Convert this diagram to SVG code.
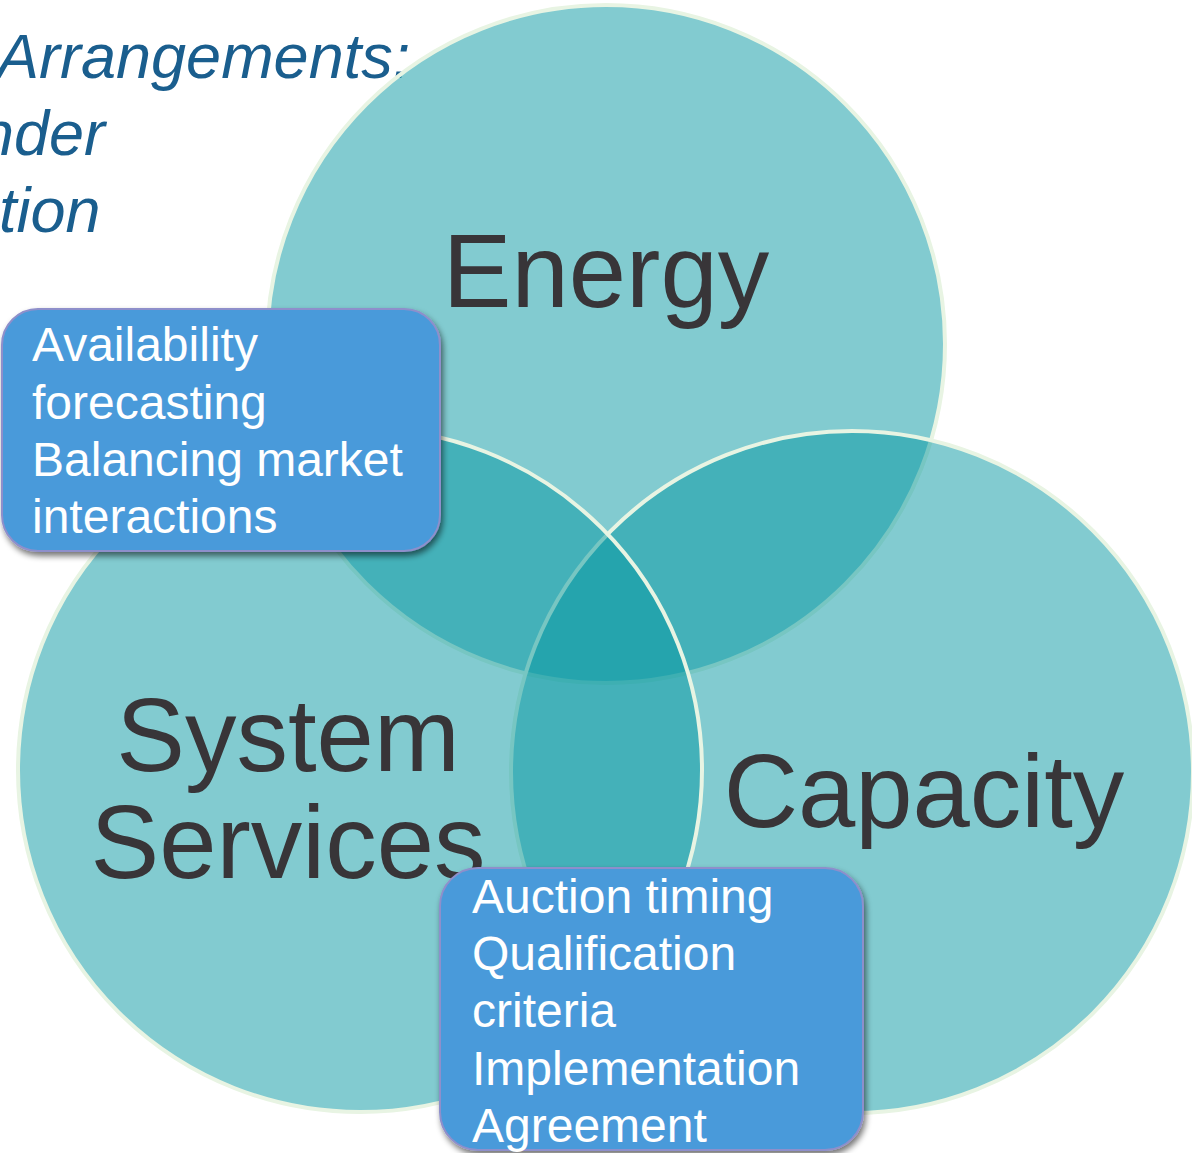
<svg xmlns="http://www.w3.org/2000/svg" width="1192" height="1153" viewBox="0 0 1192 1153">
  <defs>
    <style>
      .ring { fill: rgb(6,152,162); fill-opacity: 0.5; stroke: #E8F4E3; stroke-width: 4; }
      .big { font-family: "Liberation Sans", Arial, sans-serif; font-size: 103px; fill: #383538; }
      .head { font-family: "Liberation Sans", Arial, sans-serif; font-style: italic; font-size: 63px; fill: #1A5E8E; }
      .note { fill: #4A9ADA; stroke: #8E8FCB; stroke-width: 2; filter: url(#shadow); }
      .note-text { font-family: "Liberation Sans", Arial, sans-serif; font-size: 48px; fill: #FFFFFF; }
    </style>
    <filter id="shadow" x="-10%" y="-10%" width="125%" height="130%">
      <feGaussianBlur in="SourceAlpha" stdDeviation="3"/>
      <feOffset dx="2" dy="4" result="blur"/>
      <feComponentTransfer><feFuncA type="linear" slope="0.55"/></feComponentTransfer>
      <feMerge><feMergeNode/><feMergeNode in="SourceGraphic"/></feMerge>
    </filter>
  </defs>

  <rect width="1192" height="1153" fill="#FFFFFF"/>

  <!-- heading fragments at the upper left -->
  <g id="heading" class="head">
    <text x="-3" y="78">Arrangements:</text>
    <text x="105" y="155" text-anchor="end">nder</text>
    <text x="-1" y="232">tion</text>
  </g>

  <!-- three overlapping sets -->
  <g id="energy">
    <circle class="ring" cx="606" cy="344" r="339"/>
  </g>
  <g id="capacity">
    <circle class="ring" cx="852" cy="772" r="341"/>
  </g>
  <g id="system-services">
    <circle class="ring" cx="360" cy="770" r="342"/>
  </g>

  <g id="labels" class="big">
    <text x="606" y="307" text-anchor="middle">Energy</text>
    <text x="288" y="771" text-anchor="middle">System</text>
    <text x="288" y="878" text-anchor="middle">Services</text>
    <text x="924" y="827" text-anchor="middle">Capacity</text>
  </g>

  <g id="connectors"></g>

  <!-- callout boxes -->
  <g id="note-energy-services">
    <rect class="note" x="2" y="309" width="438" height="242" rx="36"/>
    <g class="note-text">
      <text x="32" y="361">Availability</text>
      <text x="32" y="419">forecasting</text>
      <text x="32" y="476">Balancing market</text>
      <text x="32" y="533">interactions</text>
    </g>
  </g>
  <g id="note-capacity-services">
    <rect class="note" x="440" y="868" width="423" height="282" rx="38"/>
    <g class="note-text">
      <text x="472" y="913">Auction timing</text>
      <text x="472" y="970">Qualification</text>
      <text x="472" y="1027">criteria</text>
      <text x="472" y="1085">Implementation</text>
      <text x="472" y="1142">Agreement</text>
    </g>
  </g>
</svg>
